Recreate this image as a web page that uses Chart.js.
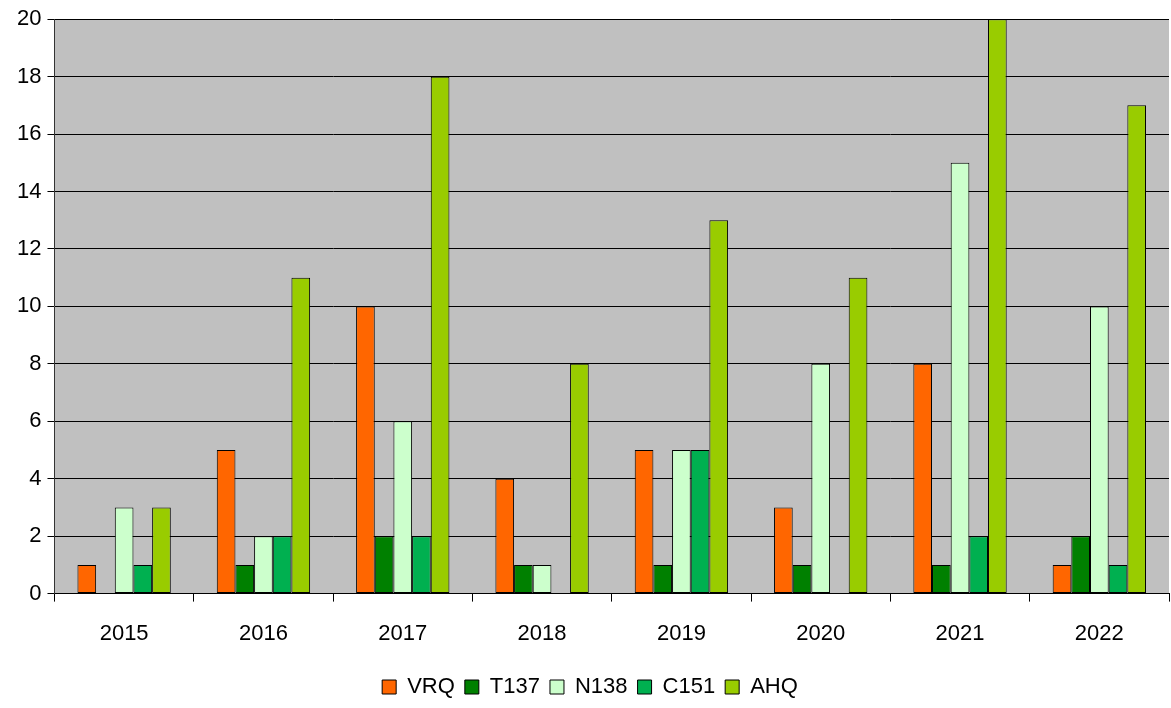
<!DOCTYPE html>
<html>
<head>
<meta charset="utf-8">
<script src="https://cdn.jsdelivr.net/npm/chart.js@4/dist/chart.umd.min.js"></script>
<style>
  body { margin: 0; background: #fff; }
  #wrap { width: 1171px; height: 708px; }
</style>
</head>
<body>
<div id="wrap"><canvas id="barChart" width="1171" height="708"></canvas></div>
<script>
var years = ['2015', '2016', '2017', '2018', '2019', '2020', '2021', '2022'];
var vrq  = [1, 5, 10, 4, 5, 3, 8, 1];
var t137 = [0, 1, 2, 1, 1, 1, 1, 2];
var n138 = [3, 2, 6, 1, 5, 8, 15, 10];
var c151 = [1, 2, 2, 0, 5, 0, 2, 1];
var ahq  = [3, 11, 18, 8, 13, 11, 20, 17];

// grey plot background
var plotBg = {
    id: 'plotBg',
    beforeDraw: function(chart) {
        var a = chart.chartArea, c = chart.ctx;
        c.save();
        c.fillStyle = '#c0c0c0';
        c.fillRect(a.left, a.top, a.right - a.left, a.bottom - a.top);
        c.restore();
    }
};

function ds(label, data, color) {
    return {
        label: label,
        data: data,
        backgroundColor: color,
        borderColor: '#000',
        borderWidth: 1,
        borderSkipped: false
    };
}

Chart.defaults.font.family = '"Liberation Sans", Arial, sans-serif';
Chart.defaults.font.size = 22;
Chart.defaults.color = '#000';

var ctx = document.getElementById('barChart').getContext('2d');
var myChart = new Chart(ctx, {
    type: 'bar',
    data: {
        labels: years,
        datasets: [
            ds('VRQ', vrq, '#ff6600'),
            ds('T137', t137, '#008000'),
            ds('N138', n138, '#ccffcc'),
            ds('C151', c151, '#00b050'),
            ds('AHQ', ahq, '#99cc00')
        ]
    },
    options: {
        responsive: false,
        animation: false,
        layout: { padding: { top: 8, right: 2, left: 11, bottom: 0 } },
        datasets: {
            bar: { categoryPercentage: 0.67, barPercentage: 1.0 }
        },
        scales: {
            x: {
                grid: {
                    offset: true,
                    drawOnChartArea: false,
                    color: '#000',
                    tickLength: 8
                },
                border: { color: '#000' },
                ticks: { padding: 19 }
            },
            y: {
                min: 0,
                max: 20,
                ticks: { stepSize: 2, padding: 6 },
                grid: { color: '#000', tickLength: 7 },
                border: { color: '#333' }
            }
        },
        plugins: {
            legend: {
                position: 'bottom',
                labels: { boxWidth: 14, boxHeight: 14, padding: 10 }
            },
            tooltip: { enabled: false }
        }
    },
    plugins: [plotBg]
});
</script>
</body>
</html>
